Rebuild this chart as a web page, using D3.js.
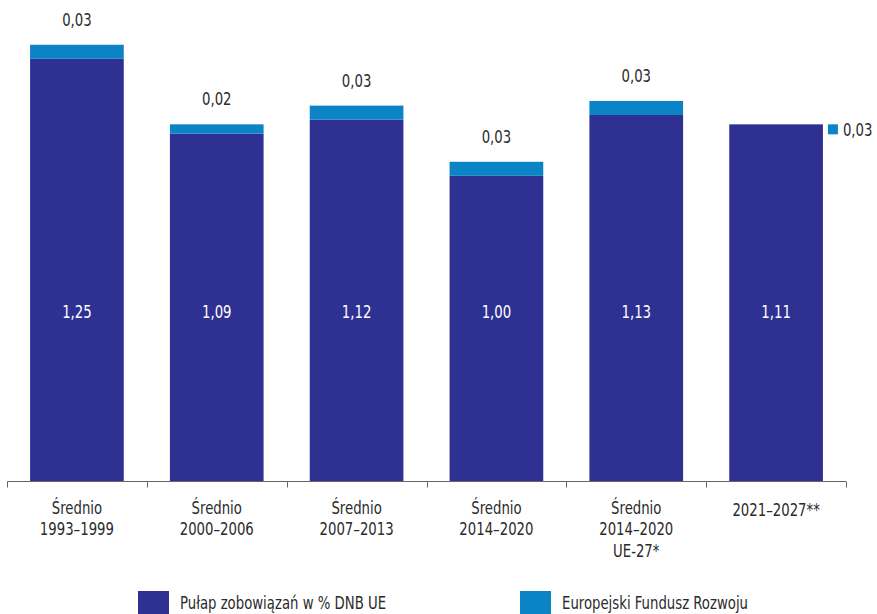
<!DOCTYPE html>
<html><head><meta charset="utf-8">
<script src="https://cdn.jsdelivr.net/npm/d3@7"></script>
<style>
html,body{margin:0;padding:0;background:#fff;}
svg{display:block;}
text{font-family:"DejaVu Sans Condensed","DejaVu Sans",sans-serif;}
</style></head>
<body>
<svg id="chart" width="877" height="614"></svg>
<script>
const categories = [
  ["Średnio","1993–1999"],
  ["Średnio","2000–2006"],
  ["Średnio","2007–2013"],
  ["Średnio","2014–2020"],
  ["Średnio","2014–2020","UE-27*"],
  ["2021–2027**"]
];
const ceilingValues = [1.25, 1.09, 1.12, 1.00, 1.13, 1.11];
const edfValues = [0.03, 0.02, 0.03, 0.03, 0.03, 0];
const edfSideValue = 0.03;   // EDF shown beside the last bar
const seriesNames = ["Pułap zobowiązań w % DNB UE", "Europejski Fundusz Rozwoju"];
const colors = ["#2e3192", "#0b84c6"];
const fmt = v => d3.format(".2f")(v).replace(".", ",");
const SX = 0.82;

const svg = d3.select("#chart");
const x = d3.scaleBand().domain(d3.range(categories.length)).range([7, 846]).paddingInner(0.33).paddingOuter(0.165);
const y = d3.scaleLinear().domain([0.348, 1.35]).range([481, 12]);

function label(parent, px, py, lines, opts) {
  const o = Object.assign({anchor:"middle", size:18, fill:"#2b2b2b", lh:22}, opts||{});
  const t = parent.append("text").attr("transform", `translate(${px},${py}) scale(${SX},1)`)
    .attr("text-anchor", o.anchor).attr("fill", o.fill).attr("font-size", o.size);
  [].concat(lines).forEach((ln, j) => t.append("tspan").attr("x", 0).attr("dy", j ? o.lh : 0).text(ln));
  return t;
}

// bars
const g = svg.append("g");
g.selectAll("rect.dark").data(ceilingValues).join("rect")
  .attr("x", (d,i) => x(i)).attr("width", x.bandwidth())
  .attr("y", d => y(d)).attr("height", d => y.range()[0] - y(d))
  .attr("fill", colors[0]);
g.selectAll("rect.light").data(edfValues).join("rect")
  .attr("x", (d,i) => x(i)).attr("width", x.bandwidth())
  .attr("y", (d,i) => y(ceilingValues[i] + d))
  .attr("height", (d,i) => y(ceilingValues[i]) - y(ceilingValues[i] + d))
  .attr("fill", colors[1]);

// inside labels
ceilingValues.forEach((d,i) => label(g, x(i) + x.bandwidth()/2, 318, fmt(d), {fill:"#fff"}));

// top labels
edfValues.forEach((d,i) => {
  if (d > 0) label(g, x(i) + x.bandwidth()/2, y(ceilingValues[i] + d) - 19, fmt(d));
});

// side marker for last bar
const li = categories.length - 1;
const sx = x(li) + x.bandwidth() + 5;
const sy = y(ceilingValues[li]);
g.append("rect").attr("x", sx).attr("y", sy).attr("width", 10).attr("height", 10).attr("fill", colors[1]);
label(g, sx + 15, sy + 12, fmt(edfSideValue), {anchor:"start"});

// x axis
const axisG = svg.append("g").attr("transform","translate(0,481.5)");
axisG.append("line").attr("x1",7.5).attr("x2",846).attr("stroke","#666").attr("stroke-width",1);
const half = x.step()*x.paddingInner()/2;
const bounds = d3.range(categories.length).map(i => x(i) - half);
bounds[0] = x.range()[0]; bounds.push(x.range()[1]);
axisG.selectAll("line.tick").data(bounds).join("line")
  .attr("x1", d => Math.round(d)+0.5).attr("x2", d => Math.round(d)+0.5)
  .attr("y1", 0).attr("y2", 6).attr("stroke","#666");
categories.forEach((lines, i) => {
  label(axisG, x(i) + x.bandwidth()/2, lines.length === 1 ? 34 : 32, lines);
});

// legend
const legendX = [138, 520];
seriesNames.forEach((n, i) => {
  svg.append("rect").attr("x", legendX[i]).attr("y", 591).attr("width", 31).attr("height", 23).attr("fill", colors[i]);
  label(svg, legendX[i] + 42, 609, n, {anchor:"start"});
});
</script>
</body></html>
